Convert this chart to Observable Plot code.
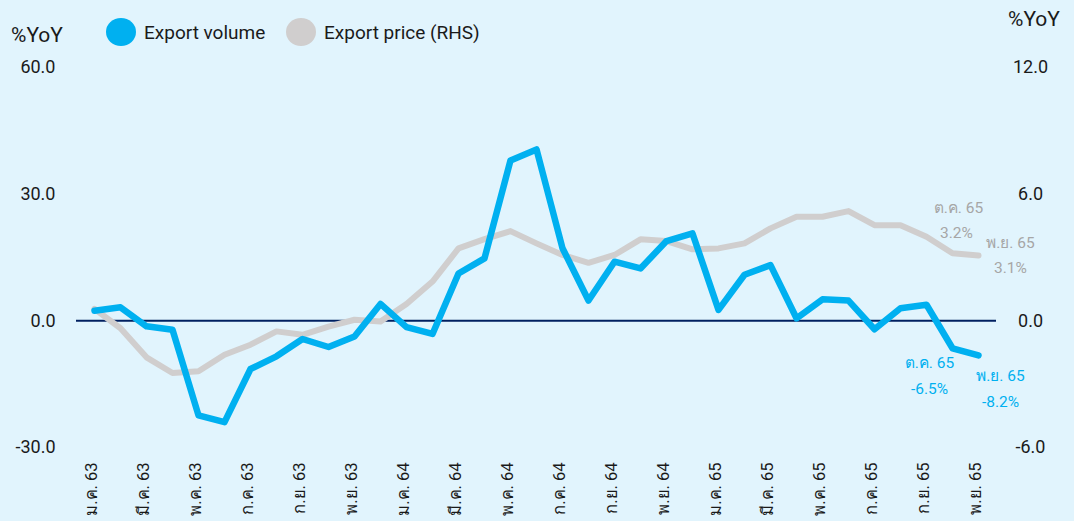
<!DOCTYPE html>
<html>
<head>
<meta charset="utf-8">
<script src="https://cdn.jsdelivr.net/npm/d3@7"></script>
<script src="https://cdn.jsdelivr.net/npm/@observablehq/plot@0.6"></script>
<style>
  html, body { margin: 0; padding: 0; background: #E1F4FD; }
  body { width: 1074px; height: 521px; overflow: hidden; font-family: Roboto, "Noto Sans", "DejaVu Sans", sans-serif; color: #1a1a1a; }
  #header { position: relative; height: 48px; width: 1074px; }
  .unit { position: absolute; font-size: 21px; line-height: 24px; transform: translate(-50%, -50%); white-space: nowrap; }
  .leg { position: absolute; top: 32px; transform: translateY(-50%); display: flex; align-items: center; font-size: 19px; white-space: nowrap; }
  .dot { width: 30px; height: 28px; border-radius: 50%; margin-right: 8px; }
</style>
</head>
<body>
<div id="header">
  <div class="unit" style="left:37px; top:35px;">%YoY</div>
  <div class="unit" style="left:1034px; top:19px;">%YoY</div>
  <div class="leg" style="left:106px;"><div class="dot" style="background:#00B0F0"></div>Export volume</div>
  <div class="leg" style="left:286px;"><div class="dot" style="background:#D0CECE"></div>Export price (RHS)</div>
</div>
<div id="chart"></div>
<script>
const months = [
  "ม.ค. 63","ก.พ. 63","มี.ค. 63","เม.ย. 63","พ.ค. 63","มิ.ย. 63","ก.ค. 63","ส.ค. 63","ก.ย. 63","ต.ค. 63","พ.ย. 63","ธ.ค. 63",
  "ม.ค. 64","ก.พ. 64","มี.ค. 64","เม.ย. 64","พ.ค. 64","มิ.ย. 64","ก.ค. 64","ส.ค. 64","ก.ย. 64","ต.ค. 64","พ.ย. 64","ธ.ค. 64",
  "ม.ค. 65","ก.พ. 65","มี.ค. 65","เม.ย. 65","พ.ค. 65","มิ.ย. 65","ก.ค. 65","ส.ค. 65","ก.ย. 65","ต.ค. 65","พ.ย. 65"
];
// Export volume, %YoY (left axis)
const exportVolume = [
  2.4, 3.2, -1.3, -2.1, -22.4, -24.0, -11.4, -8.4, -4.3, -6.2, -3.7, 4.0,
  -1.5, -3.1, 11.2, 14.8, 38.0, 40.6, 17.2, 4.8, 14.0, 12.4, 18.9, 20.7,
  2.6, 10.9, 13.2, 0.6, 5.1, 4.8, -2.0, 3.0, 3.8, -6.5, -8.2
];
// Export price, %YoY (right axis)
const exportPrice = [
  0.57, -0.35, -1.73, -2.47, -2.39, -1.61, -1.13, -0.50, -0.66, -0.27, 0.05, -0.03,
  0.80, 1.86, 3.43, 3.87, 4.25, 3.67, 3.12, 2.75, 3.12, 3.86, 3.78, 3.39,
  3.43, 3.67, 4.38, 4.93, 4.93, 5.20, 4.53, 4.53, 3.98, 3.2, 3.1
];
const leftTicks = [-30, 0, 30, 60];
const rightTicks = [-6, 0, 6, 12];
const tickMonths = months.filter((d, i) => i % 2 === 0);

// Annotations
const volNotes = [
  {month: "ต.ค. 65", value: -6.5},
  {month: "พ.ย. 65", value: -8.2}
];
const priceNotes = [
  {month: "ต.ค. 65", value: 3.2},
  {month: "พ.ย. 65", value: 3.1}
];

const ratio = 5; // left scale / right scale
const data = months.map((m, i) => ({month: m, vol: exportVolume[i], price: exportPrice[i]}));

const font = 'Roboto, "Noto Sans", "DejaVu Sans", sans-serif';
const blue = "#00B0F0", gray = "#D0CECE", grayText = "#A6A6A6";

const chart = Plot.plot({
  width: 1074,
  height: 473,
  marginTop: 19,
  marginBottom: 74,
  marginLeft: 76,
  marginRight: 78,
  style: {background: "#E1F4FD", fontFamily: font, fontSize: "18px", color: "#1a1a1a", overflow: "visible"},
  x: {type: "point", domain: months, padding: 0.5},
  y: {domain: [-30, 60]},
  marks: [
    Plot.axisY(leftTicks, {anchor: "left", tickSize: 0, tickPadding: 21, tickFormat: d => d.toFixed(1), label: null, fontSize: 18}),
    Plot.axisY(leftTicks, {anchor: "right", tickSize: 0, tickPadding: 34, textAnchor: "middle", tickFormat: d => (d / ratio).toFixed(1), label: null, fontSize: 18}),
    Plot.axisX(tickMonths, {anchor: "bottom", tickSize: 0, tickPadding: 15, tickRotate: -90, label: null, fontSize: 16.5, dx: -3}),
    Plot.ruleY([0], {stroke: "#002060", strokeWidth: 2}),
    Plot.line(data, {x: "month", y: d => d.price * ratio, stroke: gray, strokeWidth: 6}),
    Plot.line(data, {x: "month", y: "vol", stroke: blue, strokeWidth: 6.5}),
    // price annotations
    Plot.text(priceNotes.slice(0, 1), {x: "month", y: d => d.value * ratio, text: d => d.month, dx: 6, dy: -45, fill: grayText, fontSize: 15.5}),
    Plot.text(priceNotes.slice(0, 1), {x: "month", y: d => d.value * ratio, text: d => d.value.toFixed(1) + "%", dx: 4, dy: -20, fill: grayText, fontSize: 15.5}),
    Plot.text(priceNotes.slice(1), {x: "month", y: d => d.value * ratio, text: d => d.month, dx: 32, dy: -12, fill: grayText, fontSize: 15.5}),
    Plot.text(priceNotes.slice(1), {x: "month", y: d => d.value * ratio, text: d => d.value.toFixed(1) + "%", dx: 32, dy: 13, fill: grayText, fontSize: 15.5}),
    // volume annotations
    Plot.text(volNotes.slice(0, 1), {x: "month", y: "value", text: d => d.month, dx: -23, dy: 15, fill: blue, fontSize: 15.5}),
    Plot.text(volNotes.slice(0, 1), {x: "month", y: "value", text: d => d.value.toFixed(1) + "%", dx: -23, dy: 41, fill: blue, fontSize: 15.5}),
    Plot.text(volNotes.slice(1), {x: "month", y: "value", text: d => d.month, dx: 22, dy: 21, fill: blue, fontSize: 15.5}),
    Plot.text(volNotes.slice(1), {x: "month", y: "value", text: d => d.value.toFixed(1) + "%", dx: 22, dy: 47, fill: blue, fontSize: 15.5})
  ]
});
document.getElementById("chart").appendChild(chart);
</script>
</body>
</html>
